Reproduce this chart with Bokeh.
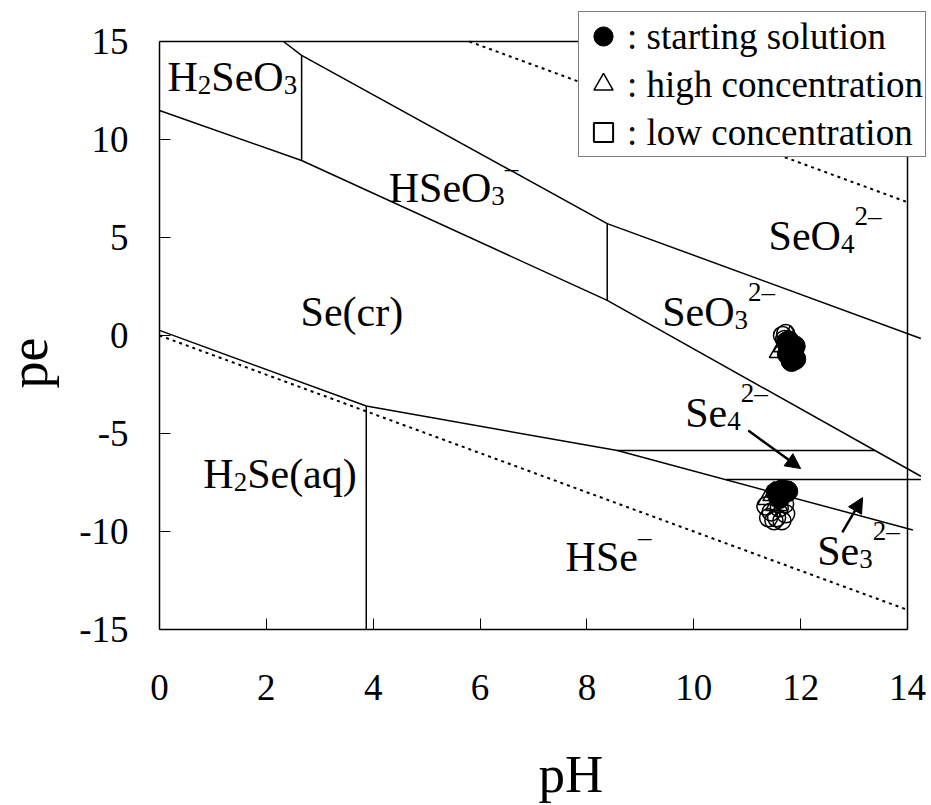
import math
from bokeh.plotting import figure
from bokeh.models import (Range1d, FixedTicker, Legend, LegendItem, Arrow,
                          NormalHead, ColumnDataSource, Label)
from bokeh.core.properties import value
from bokeh.embed import file_html
from bokeh.resources import INLINE

FONT = "Liberation Serif"

# ---------------- axes ----------------
x_ticks = [0, 2, 4, 6, 8, 10, 12, 14]
y_ticks = [-15, -10, -5, 0, 5, 10, 15]
y_tick_labels = ["-15", "-10", "-5", "0", "5", "10", "15"]
PH_MIN, PH_MAX = 0, 14
PE_MIN, PE_MAX = -15, 15

# plot box (top and right edges)
box_top_ph = [0.0, 14.0]
box_top_pe = [15.0, 15.0]
box_right_ph = [14.0, 14.0]
box_right_pe = [15.0, -15.0]

# ---------------- water stability limits (dotted) ----------------
o2_ph = [5.8, 14.0]
o2_pe = [15.0, 6.8]
h2_ph = [0.0, 14.0]
h2_pe = [0.0, -14.0]

# ---------------- predominance boundaries (solid) ----------------
seo4_ph = [2.32, 2.66, 8.38, 14.25]
seo4_pe = [15.0, 14.29, 5.71, -0.15]
secr_upper_ph = [0.0, 2.66, 8.38, 14.25]
secr_upper_pe = [11.48, 8.93, 1.79, -7.18]
secr_lower_ph = [0.0, 3.87, 8.57, 14.1]
secr_lower_pe = [0.26, -3.6, -5.87, -9.92]
h2seo3_hseo3_ph = [2.66, 2.66]
h2seo3_hseo3_pe = [8.93, 14.29]
hseo3_seo3_ph = [8.38, 8.38]
hseo3_seo3_pe = [1.79, 5.71]
h2se_hse_ph = [3.87, 3.87]
h2se_hse_pe = [-3.6, -15.0]
se4_upper_ph = [8.57, 13.39]
se4_upper_pe = [-5.87, -5.87]
se4_lower_ph = [10.6, 14.25]
se4_lower_pe = [-7.35, -7.35]

# ---------------- measured points ----------------
start_ph = [11.74, 11.80, 11.86, 11.90, 11.83, 11.76, 11.89, 11.78, 11.55, 11.65, 11.75, 11.60]
start_pe = [-0.35, -0.70, -0.95, -1.20, -1.30, -0.95, -0.55, -0.30, -8.00, -7.90, -7.95, -8.30]
high_ph = [11.81, 11.62, 11.70, 11.78, 11.40, 11.50, 11.55]
high_pe = [-0.15, -0.80, -0.50, -0.60, -8.30, -8.10, -8.60]
low_ph = [11.66, 11.72, 11.70, 11.35, 11.45, 11.55, 11.65, 11.72, 11.50, 11.60, 11.40, 11.70]
low_pe = [0.00, 0.10, -0.20, -8.70, -9.00, -9.30, -9.45, -9.10, -9.45, -8.80, -9.30, -8.60]

# ---------------- species labels (anchor pH, pe of baseline start, pieces) ----------------
# piece kinds: "n" normal, "b" subscript, "p" superscript
species = [
    (0.15, 12.5, [("H", "n"), ("2", "b"), ("SeO", "n"), ("3", "b")]),
    (4.29, 6.79, [("HSeO", "n"), ("3", "b"), ("\u2013", "p")]),
    (11.40, 4.34, [("SeO", "n"), ("4", "b"), ("2\u2013", "p")]),
    (9.41, 0.51, [("SeO", "n"), ("3", "b"), ("2\u2013", "p")]),
    (2.64, 0.51, [("Se(cr)", "n")]),
    (0.82, -7.80, [("H", "n"), ("2", "b"), ("Se(aq)", "n")]),
    (7.60, -12.04, [("HSe", "n"), ("\u2013", "p")]),
    (9.84, -4.69, [("Se", "n"), ("4", "b"), ("2\u2013", "p")]),
    (12.31, -11.73, [("Se", "n"), ("3", "b"), ("2\u2013", "p")]),
]

# ---------------- arrows to thin fields ----------------
arrow_x0 = [11.02, 12.78]
arrow_y0 = [-4.85, -10.05]
arrow_x1 = [12.00, 13.16]
arrow_y1 = [-6.79, -8.27]

# ---------------- figure ----------------
W, H = 931, 805
BOX_L, BOX_R, BOX_T, BOX_B = 159, 907, 41, 629   # pixel edges of the plot box
XS = (BOX_R - BOX_L) / (PH_MAX - PH_MIN)   # px per pH unit
YS = (BOX_B - BOX_T) / (PE_MAX - PE_MIN)   # px per pe unit

x_range = Range1d(PH_MIN - BOX_L / XS, PH_MAX + (W - BOX_R) / XS)
y_range = Range1d(PE_MIN - (H - BOX_B) / YS, PE_MAX + BOX_T / YS)

p = figure(width=W, height=H, x_range=x_range, y_range=y_range,
           output_backend="svg", toolbar_location=None,
           min_border_left=0, min_border_right=0, min_border_top=0, min_border_bottom=0)
p.background_fill_color = "white"
p.border_fill_color = "white"
p.outline_line_color = None
p.xgrid.visible = False
p.ygrid.visible = False

p.xaxis.fixed_location = PE_MIN
p.yaxis.fixed_location = PH_MIN
p.xaxis.bounds = (PH_MIN, PH_MAX)
p.yaxis.bounds = (PE_MIN, PE_MAX)
for ax in (p.xaxis[0], p.yaxis[0]):
    ax.axis_line_color = "black"
    ax.axis_line_width = 1.5
    ax.major_tick_in = 11
    ax.major_tick_out = 0
    ax.major_tick_line_color = "black"
    ax.major_tick_line_width = 1
    ax.minor_tick_line_color = None
    ax.major_label_text_font = FONT
    ax.major_label_text_font_size = "37px"
    ax.major_label_text_color = "black"

p.xaxis.ticker = FixedTicker(ticks=x_ticks)
p.yaxis.ticker = FixedTicker(ticks=y_ticks)
p.yaxis.major_label_overrides = {t: s for t, s in zip(y_ticks, y_tick_labels)}
p.xaxis.major_label_standoff = 45
p.yaxis.major_label_standoff = 31

# plot box top / right edges
p.line(box_top_ph, box_top_pe, line_color="black", line_width=1.5)
p.line(box_right_ph, box_right_pe, line_color="black", line_width=1.5)

# dotted water lines
for xs, ys in ((o2_ph, o2_pe), (h2_ph, h2_pe)):
    p.line(xs, ys, line_color="black", line_width=2, line_dash="3 4")

# solid boundaries
bx = [seo4_ph, secr_upper_ph, secr_lower_ph, h2seo3_hseo3_ph, hseo3_seo3_ph,
      h2se_hse_ph, se4_upper_ph, se4_lower_ph]
by = [seo4_pe, secr_upper_pe, secr_lower_pe, h2seo3_hseo3_pe, hseo3_seo3_pe,
      h2se_hse_pe, se4_upper_pe, se4_lower_pe]
p.multi_line(bx, by, line_color="black", line_width=1.5)

# arrows
asrc = ColumnDataSource(dict(x0=arrow_x0, y0=arrow_y0, x1=arrow_x1, y1=arrow_y1))
p.add_layout(Arrow(x_start="x0", y_start="y0", x_end="x1", y_end="y1", source=asrc,
                   line_color="black", line_width=2.5,
                   end=NormalHead(size=15, fill_color="black", line_color="black")))

# species labels
CW = {"H": .722, "S": .556, "e": .444, "O": .722, "(": .333, ")": .333, "c": .444,
      "r": .333, "a": .444, "q": .5, "\u2013": .5}
FS_MAIN, FS_SMALL = 42, 27
LIFT = 14  # px
big = dict(x=[], y=[], t=[])
small = dict(x=[], y=[], t=[])
for x0, y0, parts in species:
    dx = 0.0
    for txt, kind in parts:
        fs = FS_MAIN if kind == "n" else FS_SMALL
        dy = {"n": 0, "b": -8, "p": 20}[kind] + LIFT
        tgt = big if kind == "n" else small
        tgt["x"].append(x0 + dx / XS)
        tgt["y"].append(y0 + dy / YS)
        tgt["t"].append(txt)
        dx += sum(CW.get(ch, .5) for ch in txt) * fs
p.text(x="x", y="y", text="t", source=ColumnDataSource(big), text_font=value(FONT),
       text_font_size="42px", text_color="black", text_align="left",
       text_baseline="alphabetic")
p.text(x="x", y="y", text="t", source=ColumnDataSource(small), text_font=value(FONT),
       text_font_size="27px", text_color="black", text_align="left",
       text_baseline="alphabetic")

# axis titles
p.add_layout(Label(x=PH_MIN + (538 - BOX_L) / XS, y=PE_MAX - (789 - BOX_T - 16) / YS,
                   text="pH", text_font=FONT, text_font_size="53px", text_color="black",
                   text_align="left", text_baseline="alphabetic"))
p.add_layout(Label(x=PH_MIN + (28 - BOX_L) / XS, y=PE_MAX - (388 - BOX_T) / YS,
                   text="pe", angle=math.pi / 2, text_font=FONT, text_font_size="54px",
                   text_color="black", text_align="left", text_baseline="alphabetic"))

# data points
r_low = p.scatter(low_ph, low_pe, marker="circle", size=18, fill_color=None,
                  line_color="black", line_width=1.5)
r_high = p.scatter(high_ph, high_pe, marker="triangle", size=22, fill_color=None,
                   line_color="black", line_width=1.5)
r_start = p.scatter(start_ph, start_pe, marker="circle", size=21, fill_color="black",
                    line_color="black", line_width=1)
r_low_key = p.scatter(low_ph, low_pe, marker="square", size=18, fill_color=None,
                      line_color="black", line_width=2, visible=False)

legend = Legend(items=[
    LegendItem(label=": starting solution", renderers=[r_start]),
    LegendItem(label=": high concentration", renderers=[r_high]),
    LegendItem(label=": low concentration", renderers=[r_low_key]),
], location=(578, H - 157))
legend.glyph_width = 48
legend.glyph_height = 48
legend.padding = 0
legend.margin = 0
legend.spacing = 0
legend.label_standoff = 0
legend.label_width = 298
legend.label_text_font = FONT
legend.label_text_font_size = "37px"
legend.label_text_color = "black"
legend.border_line_color = "black"
legend.border_line_width = 1.5
legend.background_fill_color = "white"
legend.background_fill_alpha = 1
legend.inactive_fill_alpha = 0
p.add_layout(legend)

open("out.html", "w").write(file_html(p, INLINE))
